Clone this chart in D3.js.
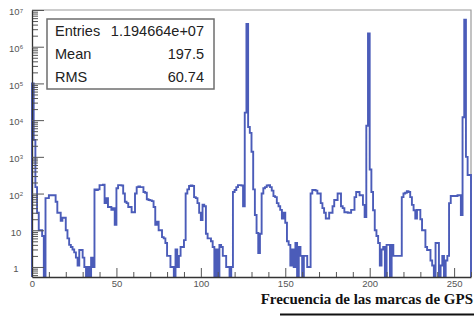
<!DOCTYPE html>
<html>
<head>
<meta charset="utf-8">
<script src="https://cdn.jsdelivr.net/npm/d3@7"></script>
<style>
body { margin: 0; background: #fff; }
svg text { font-family: "Liberation Sans", Arial, sans-serif; }
</style>
</head>
<body>
<div id="canvas"></div>
<script>
"use strict"
// canvas size
let svgWidth = 475;
let svgHeight = 323;

// frame of the histogram
let margin = {
    top: 10,
    right: 4,
    bottom: 46,
    left: 32
}

// bin contents, one bin per unit from 0 to 260 (0 = empty bin)
let counts = [
    1e5, 2900, 150, 30, 10, 10, 7, 0, 75, 75,
    90, 90, 90, 90, 60, 30, 30, 18, 22, 22,
    10, 6, 4, 3.5, 3, 2.5, 1.8, 1.1, 2.9, 2.9,
    1.8, 1, 0, 1, 0, 1.8, 1, 130, 125, 130,
    170, 170, 175, 55, 75, 43, 43, 36, 40, 14,
    140, 170, 170, 165, 100, 60, 55, 43, 43, 31,
    31, 100, 150, 155, 150, 150, 110, 105, 70, 67,
    65, 62, 43, 14, 17, 10, 10, 6.5, 6, 4.5,
    2, 2, 1, 1, 0, 3, 1, 2, 3.5, 3.5,
    5.4, 100, 130, 160, 165, 160, 80, 75, 55, 30,
    19, 50, 45, 8, 6, 6, 5, 3.5, 0, 3,
    0, 4, 3.5, 2, 2, 1, 1, 0, 1, 110,
    125, 150, 170, 170, 165, 45, 16000, 4.2e6, 6500, 4500,
    1370, 130, 26, 8.4, 2.4, 8, 100, 140, 150, 165,
    170, 150, 120, 85, 80, 55, 45, 36, 21, 30,
    16, 5, 4, 1.1, 3, 1, 4.5, 0, 3.5, 2,
    0, 2, 2, 1, 1, 100, 125, 125, 120, 100,
    100, 55, 40, 30, 21, 21, 30, 30, 45, 67,
    67, 100, 100, 45, 40, 31, 31, 30, 30, 36,
    36, 80, 110, 110, 90, 90, 49, 23, 7000, 2.3e6,
    450, 110, 35, 10, 7, 4.5, 1.1, 3, 3.5, 0,
    4, 4, 0, 4, 2, 2, 2, 2, 2, 80,
    100, 105, 115, 110, 80, 49, 35, 21, 36, 36,
    20, 10, 10, 3.5, 2.9, 2.9, 1.5, 1.1, 0, 4.5,
    4.5, 0, 1.1, 2, 0, 1.5, 2, 55, 86, 86,
    86, 86, 90, 90, 26, 12000, 5.4e6, 1000, 320, 320
];

let xRange = [0, 260];
let yRange = [0.533, 1e7];

// axis ticks
let xMajorTicks = [0, 50, 100, 150, 200, 250];
let yDecades = [1, 10, 100, 1e3, 1e4, 1e5, 1e6, 1e7];

// statistics box
let statNames = ["Entries", "Mean", "RMS"];
let statValues = ["1.194664e+07", "197.5", "60.74"];

let axisTitle = "Frecuencia de las marcas de GPS";

let svg = d3.select("#canvas")
    .append("svg")
    .attr("width", svgWidth)
    .attr("height", svgHeight)
    .style("display", "block")

svg.append("rect")
    .attr("width", svgWidth)
    .attr("height", svgHeight)
    .attr("fill", "#ffffff")

let plotLeft = margin.left;
let plotRight = svgWidth - margin.right;
let plotTop = margin.top;
let plotBottom = svgHeight - margin.bottom;

let x = d3.scaleLinear().domain(xRange).range([plotLeft, plotRight]);
let y = d3.scaleLog().domain(yRange).range([plotBottom, plotTop]).clamp(true);

// frame: top and right lines are grey
svg.append("path")
    .attr("d", `M${plotLeft},${plotTop}H${plotRight}V${plotBottom}`)
    .attr("fill", "none")
    .attr("stroke", "#9a9a9a")
    .attr("stroke-width", 1.2)

// histogram outline
let pts = [[xRange[0], yRange[0]]];
counts.forEach(function(c, i) {
    pts.push([i, c > 0 ? c : yRange[0]]);
});
pts.push([xRange[1], counts[counts.length - 1]]);
pts.push([xRange[1], yRange[0]]);

let histLine = d3.line()
    .x(function(d) { return x(d[0]); })
    .y(function(d) { return y(d[1]); })
    .curve(d3.curveStepAfter);

svg.append("path")
    .datum(pts)
    .attr("d", histLine)
    .attr("fill", "none")
    .attr("stroke", "#4b5cb9")
    .attr("stroke-width", 1.9)
    .attr("stroke-linejoin", "miter")

// x axis: minor ticks every 10, major with labels
let xMinor = x.ticks(26).filter(function(v) { return xMajorTicks.indexOf(v) < 0; });

let gxMinor = svg.append("g")
    .attr("transform", `translate(0,${plotBottom})`)
    .call(d3.axisBottom(x).tickValues(xMinor).tickSize(-5).tickFormat(""));
gxMinor.select(".domain").remove();

let gx = svg.append("g")
    .attr("transform", `translate(0,${plotBottom})`)
    .call(d3.axisBottom(x).tickValues(xMajorTicks).tickSizeInner(-9).tickSizeOuter(0).tickPadding(3));

// y axis: log ticks, decades are long
let yMinor = y.ticks().filter(function(v) { return yDecades.indexOf(v) < 0; });

let gyMinor = svg.append("g")
    .attr("transform", `translate(${plotLeft},0)`)
    .call(d3.axisLeft(y).tickValues(yMinor).tickSize(-6).tickFormat(""));
gyMinor.select(".domain").remove();

let gy = svg.append("g")
    .attr("transform", `translate(${plotLeft},0)`)
    .call(d3.axisLeft(y).tickValues(yDecades).tickSizeInner(-12).tickSizeOuter(0).tickFormat(""));

// style axes
svg.selectAll(".tick line").attr("stroke", "#555").attr("stroke-width", 1);
gx.select(".domain").attr("stroke", "#333").attr("stroke-width", 1.3);
gy.select(".domain").attr("stroke", "#333").attr("stroke-width", 1.3);

gx.selectAll(".tick text")
    .attr("fill", "#555")
    .style("font-size", "9.5px");

// decade labels 1, 10, 10^2 ... 10^7 centred left of the axis
gy.selectAll(".tick").each(function(d) {
    let n = Math.round(Math.log10(d));
    let t = d3.select(this).select("text")
        .attr("x", -16)
        .attr("dy", "0.5em")
        .attr("text-anchor", "middle")
        .attr("fill", "#555")
        .style("font-size", "9.5px");
    if (n == 0) {
        t.text("1");
    } else if (n == 1) {
        t.text("10");
    } else {
        t.text("10");
        t.append("tspan")
            .attr("dy", "-0.45em")
            .style("font-size", "6px")
            .text(n);
    }
});

// statistics box
let box = svg.append("g");
box.append("rect")
    .attr("x", 47)
    .attr("y", 19)
    .attr("width", 167)
    .attr("height", 70)
    .attr("fill", "#ffffff")
    .attr("stroke", "#6e6e6e")
    .attr("stroke-width", 1.5)

statNames.forEach(function(name, i) {
    box.append("text")
        .attr("x", 55)
        .attr("y", 36 + i * 23)
        .attr("fill", "#222")
        .style("font-size", "14.5px")
        .text(name);
    box.append("text")
        .attr("x", 204)
        .attr("y", 36 + i * 23)
        .attr("text-anchor", "end")
        .attr("fill", "#222")
        .style("font-size", "14.5px")
        .text(statValues[i]);
});

// axis title with the rule under it
svg.append("text")
    .attr("x", 473)
    .attr("y", 304)
    .attr("text-anchor", "end")
    .style("font-family", "'Liberation Serif', 'Times New Roman', serif")
    .style("font-weight", "bold")
    .style("font-size", "15px")
    .attr("fill", "#111")
    .text(axisTitle);

svg.append("line")
    .attr("x1", 280)
    .attr("x2", 474)
    .attr("y1", 314.5)
    .attr("y2", 314.5)
    .attr("stroke", "#111")
    .attr("stroke-width", 2)
</script>
</body>
</html>
